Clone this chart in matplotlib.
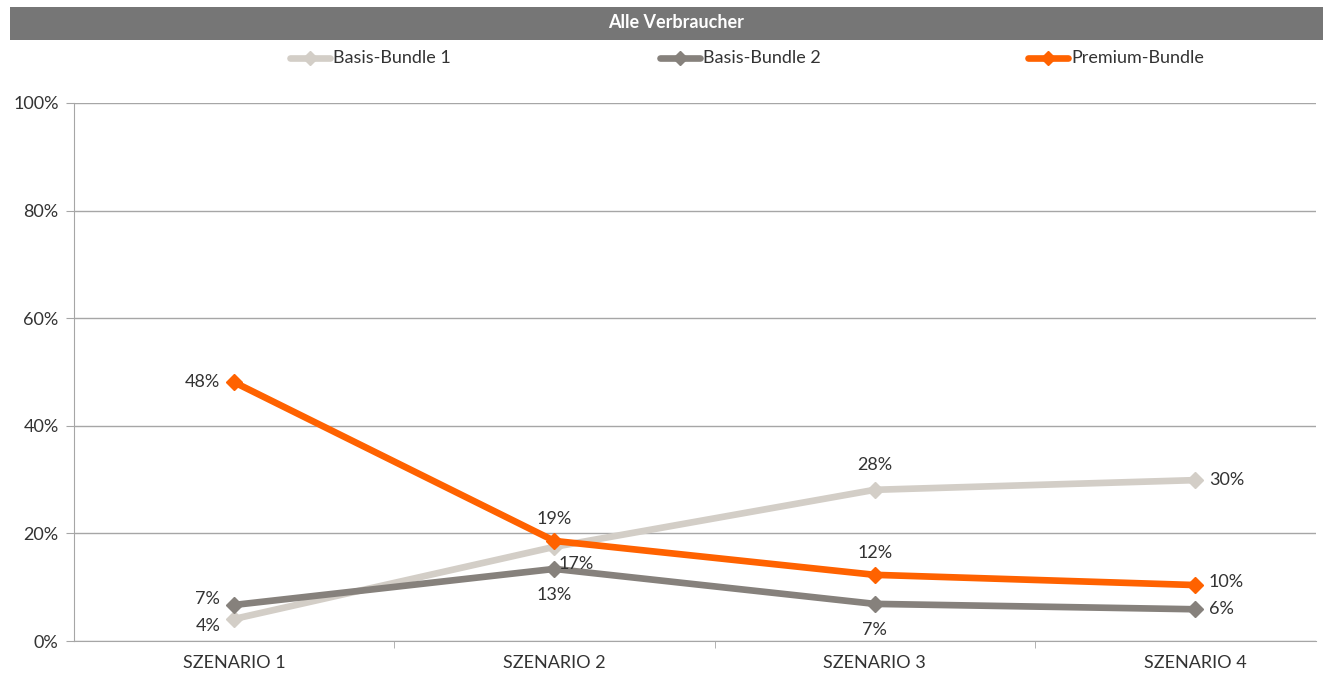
import numpy as np
import matplotlib.pyplot as plt
from matplotlib.lines import Line2D
from matplotlib.patches import Rectangle

plt.rcParams['font.family'] = ['Lato', 'DejaVu Sans']

# Data
scenarios = ['SZENARIO 1', 'SZENARIO 2', 'SZENARIO 3', 'SZENARIO 4']
basis1 = [4.1, 17.5, 28.1, 29.9]
basis2 = [6.7, 13.4, 6.9, 5.9]
premium = [48.1, 18.6, 12.3, 10.4]
basis1_labels = ['4%', '17%', '28%', '30%']
basis2_labels = ['7%', '13%', '7%', '6%']
premium_labels = ['48%', '19%', '12%', '10%']

c_b1 = '#D3CEC7'
c_b2 = '#86817C'
c_pr = '#FF6200'
txt = '#333333'

W, H = 1323, 673
fig = plt.figure(figsize=(W / 100, H / 100), dpi=100)
ax = fig.add_axes([74 / W, 1 - 641 / H, (1316 - 74) / W, 538 / H])

x = np.arange(len(scenarios))
for vals, col in [(basis1, c_b1), (basis2, c_b2), (premium, c_pr)]:
    ax.plot(x, vals, color=col, lw=4.8, marker='D', ms=8, mec=col, mfc=col,
            solid_capstyle='round', zorder=3)

# data labels
fs = 13
def lab(i, v, s, dx, dy, ha='center'):
    ax.annotate(s, (x[i], v), xytext=(dx, dy), textcoords='offset points',
                ha=ha, va='center', fontsize=fs, color=txt)

for i in range(4):
    if i == 0:
        lab(i, premium[i], premium_labels[i], -10, 0, 'right')
        lab(i, basis2[i], basis2_labels[i], -10, 4, 'right')
        lab(i, basis1[i], basis1_labels[i], -10, -5, 'right')
    elif i == 3:
        lab(i, premium[i], premium_labels[i], 10, 2, 'left')
        lab(i, basis2[i], basis2_labels[i], 10, 0, 'left')
        lab(i, basis1[i], basis1_labels[i], 10, 0, 'left')
    elif i == 1:
        lab(i, premium[i], premium_labels[i], 0, 16)
        lab(i, basis1[i], basis1_labels[i], 16, -12)
        lab(i, basis2[i], basis2_labels[i], 0, -19)
    else:
        lab(i, premium[i], premium_labels[i], 0, 16)
        lab(i, basis1[i], basis1_labels[i], 0, 18)
        lab(i, basis2[i], basis2_labels[i], 0, -19)

ax.set_ylim(0, 100)
ax.set_xlim(-0.5, 3 + (1316 - 1195) / 320)
ax.set_yticks(np.arange(0, 101, 20))
ax.set_yticklabels([f'{v}%' for v in range(0, 101, 20)])
ax.yaxis.grid(True, color='#A6A6A6', lw=1)
ax.set_axisbelow(True)
ax.set_xticks(x)
ax.set_xticklabels(scenarios)
ax.set_xticks([0.5, 1.5, 2.5], minor=True)
ax.tick_params(axis='x', which='major', length=0, pad=10, labelsize=fs, labelcolor=txt)
ax.tick_params(axis='x', which='minor', length=5, color='#A6A6A6', direction='out')
ax.tick_params(axis='y', length=6, color='#A6A6A6', pad=5, labelsize=fs, labelcolor=txt)
for s in ['top', 'right']:
    ax.spines[s].set_visible(False)
ax.spines['left'].set_color('#A6A6A6')
ax.spines['bottom'].set_color('#A6A6A6')

# header bar
fig.add_artist(Rectangle((10 / W, 1 - 40 / H), 1 - 10 / W, 33 / H,
                         transform=fig.transFigure, color='#767676', lw=0))
fig.text(676 / W, 1 - 23 / H, 'Alle Verbraucher', ha='center', va='center',
         color='white', fontsize=13, fontweight='bold')

# legend
yl = 1 - 58 / H
for x0, col, name in [(290, c_b1, 'Basis-Bundle 1'), (660, c_b2, 'Basis-Bundle 2'),
                      (1028, c_pr, 'Premium-Bundle')]:
    fig.add_artist(Line2D([x0 / W, (x0 + 40) / W], [yl, yl], color=col, lw=4.8,
                          solid_capstyle='round', transform=fig.transFigure))
    fig.add_artist(Line2D([(x0 + 20) / W], [yl], color=col, marker='D', ms=7,
                          transform=fig.transFigure))
    fig.text((x0 + 43) / W, yl, name, ha='left', va='center', fontsize=fs, color=txt)

fig.savefig('out.png', dpi=100)
